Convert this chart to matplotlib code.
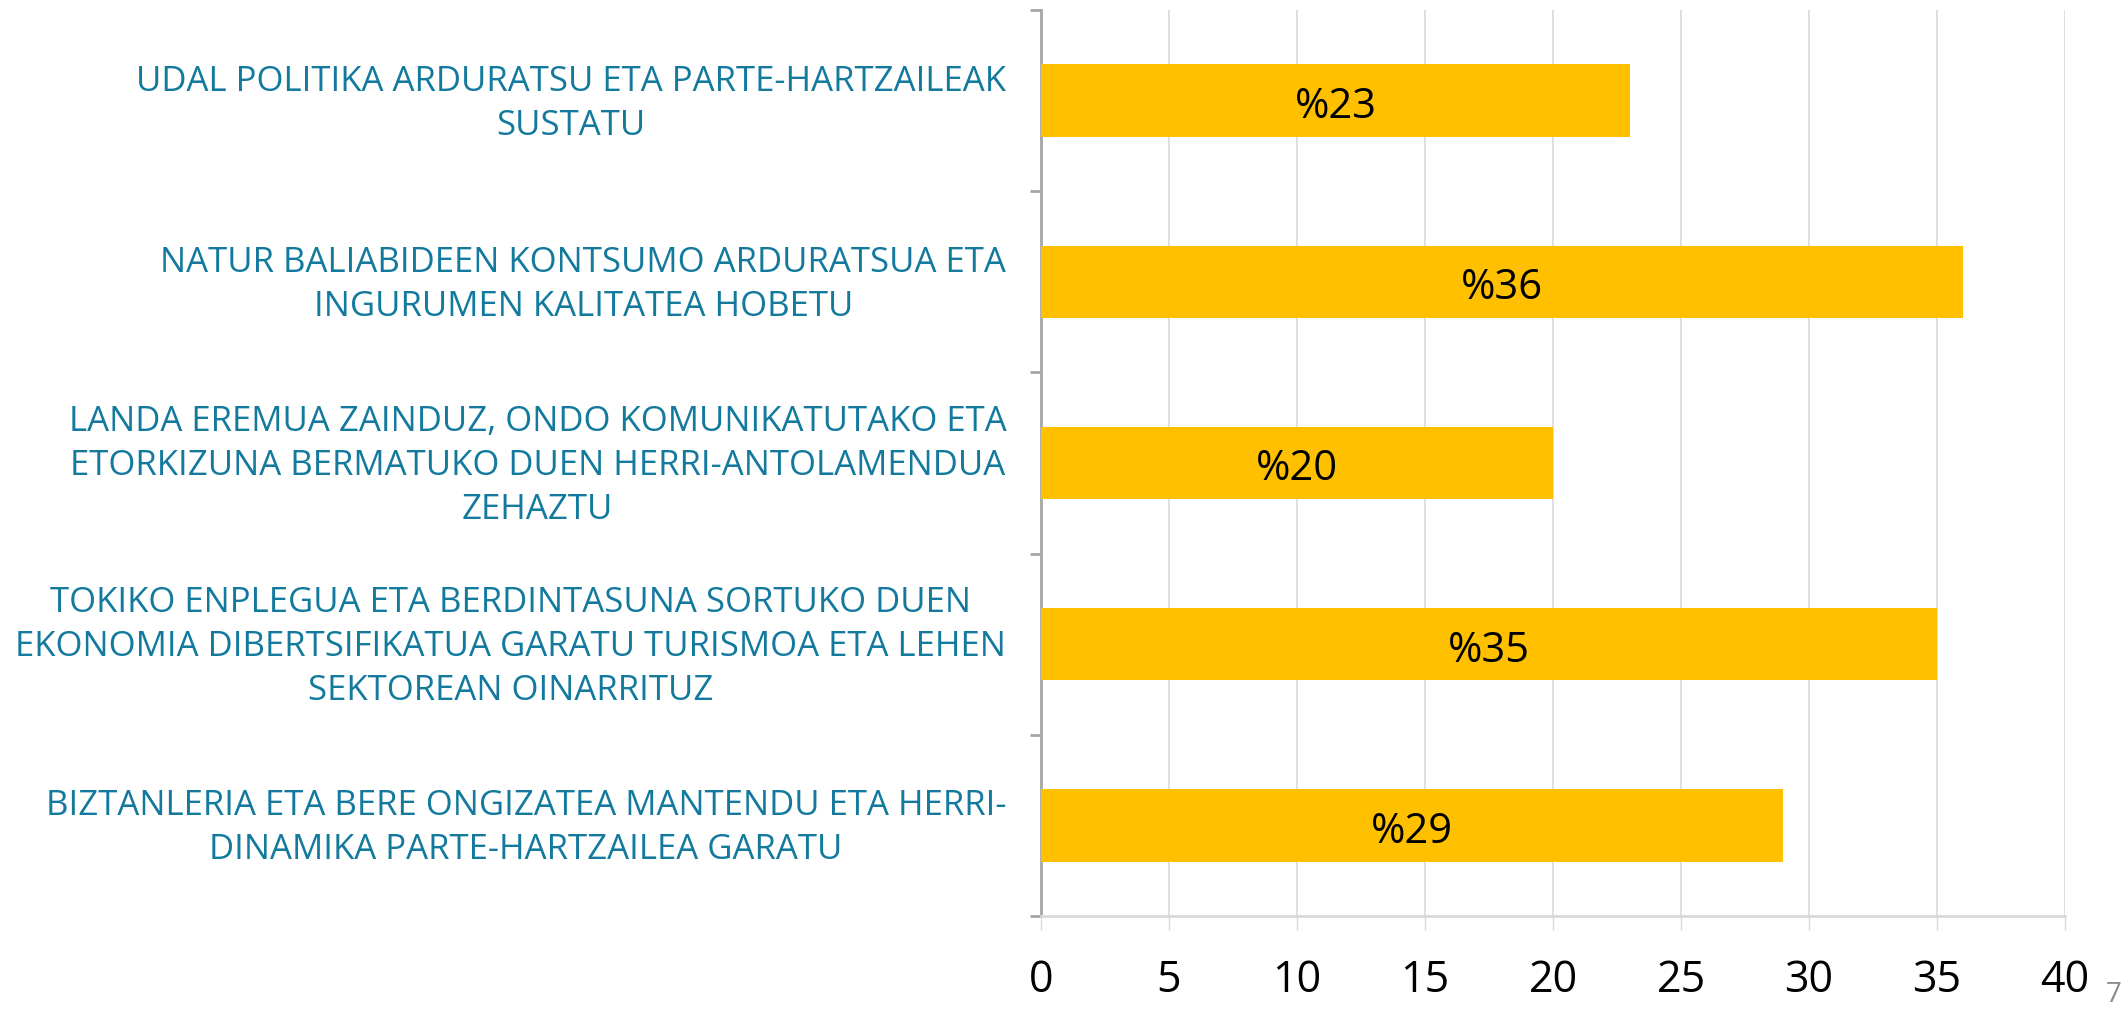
import numpy as np
import matplotlib.pyplot as plt
import matplotlib.transforms as mtransforms

plt.rcParams['font.family'] = ['Open Sans', 'DejaVu Sans']

# Datuak (goitik behera)
categories = [
    "UDAL POLITIKA ARDURATSU ETA PARTE-HARTZAILEAK\nSUSTATU",
    "NATUR BALIABIDEEN KONTSUMO ARDURATSUA ETA\nINGURUMEN KALITATEA HOBETU",
    "LANDA EREMUA ZAINDUZ, ONDO KOMUNIKATUTAKO ETA\nETORKIZUNA BERMATUKO DUEN HERRI-ANTOLAMENDUA\nZEHAZTU",
    "TOKIKO ENPLEGUA ETA BERDINTASUNA SORTUKO DUEN\nEKONOMIA DIBERTSIFIKATUA GARATU TURISMOA ETA LEHEN\nSEKTOREAN OINARRITUZ",
    "BIZTANLERIA ETA BERE ONGIZATEA MANTENDU ETA HERRI-\nDINAMIKA PARTE-HARTZAILEA GARATU",
]
values = [23, 36, 20, 35, 29]
bar_labels = ["%23", "%36", "%20", "%35", "%29"]
x_ticks = [0, 5, 10, 15, 20, 25, 30, 35, 40]

fig = plt.figure(figsize=(21.28, 10.12), dpi=100)
ax = fig.add_axes([0.4892, 0.0939, 0.4812, 0.8952])

y = np.arange(len(categories))
bars = ax.barh(y, values, height=0.4, color='#FFC000', zorder=3)
for b, lab in zip(bars, bar_labels):
    ax.text(b.get_width() / 2, b.get_y() + b.get_height() / 2 + 0.03, lab,
            ha='center', va='center', fontsize=30, color='black', zorder=4)

ax.set_ylim(len(categories) - 0.5, -0.5)
ax.set_xlim(0, 40)

# y ardatza: etiketak eta kategorien arteko marrak
ax.set_yticks(y)
ax.set_yticklabels(categories, fontsize=25, color='#137A9E',
                   multialignment='center', linespacing=1.38)
ax.tick_params(axis='y', which='major', length=0, pad=25)
shift = mtransforms.ScaledTranslation(0, 0.07, fig.dpi_scale_trans)
for lbl in ax.get_yticklabels():
    lbl.set_transform(lbl.get_transform() + shift)
ax.set_yticks(np.arange(-0.5, len(categories)), minor=True)
ax.tick_params(axis='y', which='minor', length=8, width=2, color='#A6A6A6')

# x ardatza
ax.set_xticks(x_ticks)
ax.set_xticklabels([str(t) for t in x_ticks], fontsize=31)
ax.tick_params(axis='x', length=10, width=1, color='#D9D9D9', pad=20)
ax.grid(axis='x', color='#D9D9D9', linewidth=1.2, zorder=0)

for s in ['top', 'right']:
    ax.spines[s].set_visible(False)
ax.spines['left'].set_color('#A6A6A6')
ax.spines['left'].set_linewidth(2)
ax.spines['bottom'].set_color('#D9D9D9')
ax.spines['bottom'].set_linewidth(2)

fig.text(0.9935, 0.017, "7", fontsize=20, color='#8C8C8C', ha='center', va='center')

fig.savefig('out.png', dpi=100)
